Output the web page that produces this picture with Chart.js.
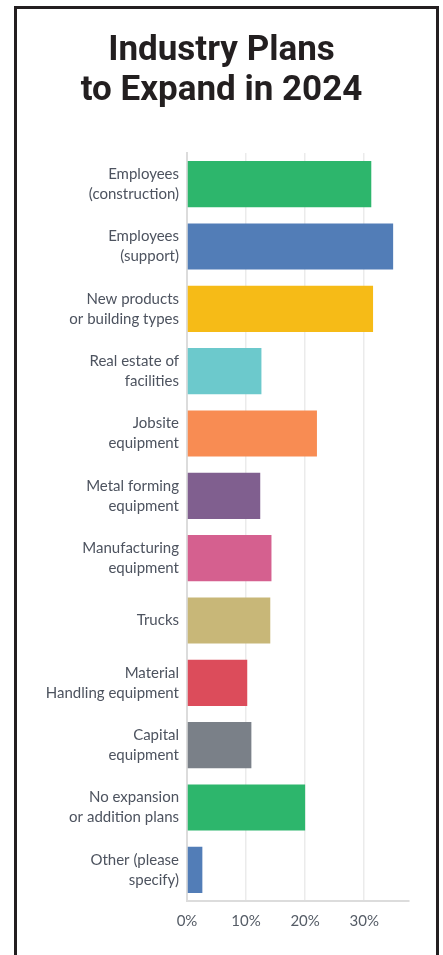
<!DOCTYPE html>
<html>
<head>
<meta charset="utf-8">
<script src="https://cdn.jsdelivr.net/npm/chart.js@4"></script>
<style>
  html, body { margin: 0; padding: 0; background: #fff; }
  #wrap { position: absolute; left: 0; top: 0; width: 443px; height: 955px; }
  #frame { position: absolute; left: 14px; top: 6px; width: 419px; height: 1000px;
           border: 3px solid #231f20; pointer-events: none; box-sizing: content-box; }
</style>
</head>
<body>
<div id="wrap"><canvas id="c" width="443" height="955"></canvas></div>
<div id="frame"></div>
<script>
const categories = [
  ['Employees', '(construction)'],
  ['Employees', '(support)'],
  ['New products', 'or building types'],
  ['Real estate of', 'facilities'],
  ['Jobsite', 'equipment'],
  ['Metal forming', 'equipment'],
  ['Manufacturing', 'equipment'],
  ['Trucks'],
  ['Material', 'Handling equipment'],
  ['Capital', 'equipment'],
  ['No expansion', 'or addition plans'],
  ['Other (please', 'specify)']
];
const values = [31.2, 34.9, 31.5, 12.6, 22.0, 12.4, 14.3, 14.1, 10.2, 10.9, 20.0, 2.6];
const barColors = ['#2db66c', '#527db7', '#f6bb17', '#6cc9cc', '#f88c53', '#805f8f',
                   '#d5608f', '#c8b778', '#dc4c5b', '#7a8088', '#2db66c', '#527db7'];
const titleLines = ['Industry Plans', 'to Expand in 2024'];
const xTicks = [0, 10, 20, 30];

new Chart(document.getElementById('c'), {
  type: 'bar',
  data: {
    labels: categories,
    datasets: [{
      data: values,
      backgroundColor: barColors,
      borderWidth: 0,
      categoryPercentage: 1.0,
      barPercentage: 0.74
    }]
  },
  options: {
    indexAxis: 'y',
    responsive: false,
    animation: false,
    devicePixelRatio: 1,
    layout: { padding: { left: 0, right: 0, top: 0, bottom: 14 } },
    plugins: {
      legend: { display: false },
      tooltip: { enabled: false },
      title: {
        display: true,
        text: titleLines,
        color: '#231f20',
        font: { family: 'Roboto', size: 35, weight: 'bold', lineHeight: 1.15 },
        padding: { top: 31, bottom: 41.5 }
      }
    },
    scales: {
      x: {
        min: 0,
        max: 37.5,
        afterBuildTicks: (s) => { s.ticks = xTicks.map(v => ({ value: v })); },
        ticks: {
          includeBounds: false,
          callback: (v) => v + '%',
          color: '#555c66',
          font: { family: 'Lato', size: 15 },
          padding: 11
        },
        grid: { color: '#ebebeb', lineWidth: 1.5, drawTicks: false },
        border: { display: true, color: '#dcdcdc', width: 2 }
      },
      y: {
        afterFit: (s) => { s.width = 187; },
        ticks: {
          color: '#4d535f',
          font: { family: 'Lato', size: 15, lineHeight: 1.33 },
          padding: 8
        },
        grid: { display: false, drawTicks: false },
        border: { display: true, color: '#dcdcdc', width: 2 }
      },
      yPad: {
        type: 'category',
        position: 'right',
        afterFit: (s) => { s.width = 34.5; },
        ticks: { display: false },
        grid: { display: false, drawTicks: false },
        border: { display: false }
      }
    }
  }
});
</script>
</body>
</html>
